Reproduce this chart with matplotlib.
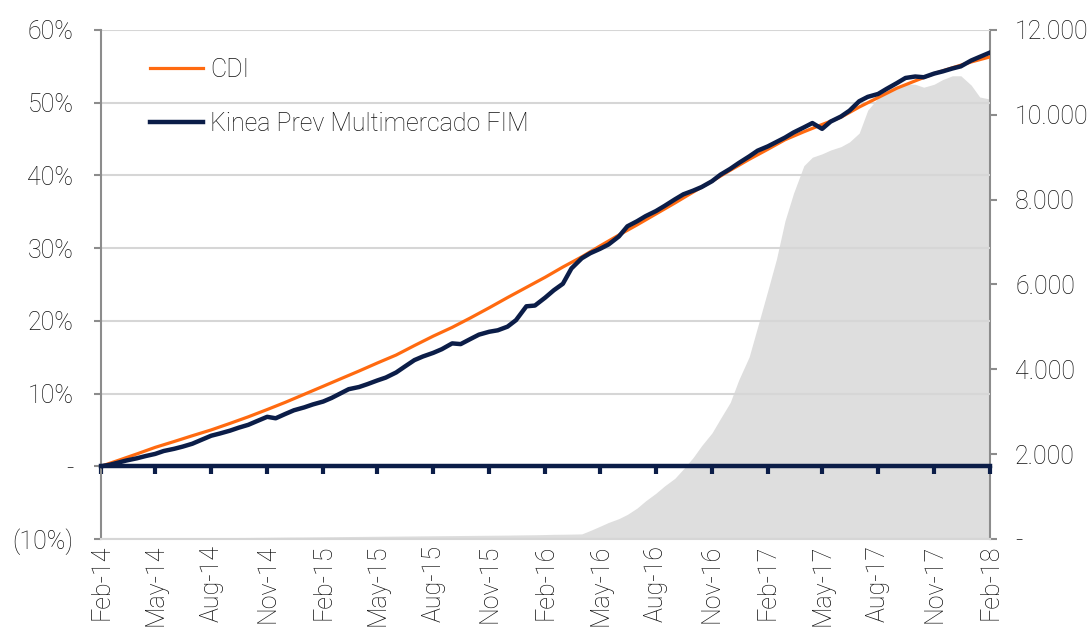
import matplotlib
matplotlib.use('Agg')
import matplotlib.pyplot as plt
import matplotlib.dates as mdates
import numpy as np
import pandas as pd

plt.rcParams['font.family'] = ['Roboto', 'DejaVu Sans']
plt.rcParams['font.weight'] = 'light'

# CDI accumulated return (%), monthly from Feb-14
cdi = [0.0, 0.8, 1.7, 2.6, 3.4, 4.2, 5.0, 5.9, 6.8, 7.8,
       8.8, 9.9, 11.0, 12.0, 13.1, 14.2, 15.3, 16.6, 17.9, 19.1,
       20.4, 21.8, 23.2, 24.6, 26.0, 27.4, 28.8, 30.3, 31.8, 33.2,
       34.7, 36.2, 37.7, 39.2, 40.7, 42.2, 43.6, 44.9, 46.0, 47.0,
       48.0, 49.4, 50.7, 52.0, 53.0, 54.0, 54.8, 55.6, 56.3]

# fund accumulated return (%), twice a month from Feb-14
fund = [0.0, 0.2, 0.5, 0.8, 1.1, 1.4, 1.7, 2.1, 2.4, 2.7,
        3.1, 3.6, 4.2, 4.5, 4.9, 5.3, 5.7, 6.2, 6.8, 6.6,
        7.2, 7.7, 8.1, 8.5, 8.9, 9.4, 10.0, 10.6, 10.9, 11.3,
        11.8, 12.2, 12.9, 13.7, 14.6, 15.1, 15.6, 16.1, 16.9, 16.8,
        17.5, 18.1, 18.5, 18.7, 19.2, 20.1, 22.0, 22.1, 23.2, 24.2,
        25.1, 27.2, 28.6, 29.3, 29.9, 30.5, 31.6, 33.0, 33.7, 34.4,
        35.1, 35.8, 36.7, 37.4, 37.9, 38.4, 39.2, 40.1, 40.9, 41.7,
        42.6, 43.4, 44.0, 44.6, 45.2, 45.9, 46.6, 47.2, 46.4, 47.4,
        48.1, 48.9, 50.2, 50.8, 51.2, 51.9, 52.7, 53.4, 53.6, 53.5,
        54.0, 54.3, 54.7, 55.0, 55.8, 56.3, 56.9]

# fund net assets (right axis), twice a month from Feb-14
aum = [10, 12, 14, 15, 17, 18, 20, 22, 24, 25,
       27, 28, 30, 32, 34, 35, 36, 38, 40, 42,
       44, 46, 48, 50, 52, 54, 56, 58, 60, 62,
       64, 66, 68, 70, 72, 74, 76, 78, 80, 82,
       84, 86, 88, 90, 92, 95, 98, 100, 105, 110,
       112, 115, 120, 200, 300, 390, 480, 580, 730, 900,
       1080, 1250, 1430, 1650, 1920, 2200, 2500, 2840, 3220, 3750,
       4290, 5000, 5870, 6600, 7500, 8150, 8800, 9000, 9080, 9170,
       9250, 9360, 9570, 10110, 10400, 10620, 10680, 10730, 10720, 10650,
       10720, 10830, 10920, 10920, 10700, 10420, 10370]

cdi_dates = pd.date_range('2014-02-01', periods=len(cdi), freq='MS')
half_dates = pd.date_range('2014-02-01', periods=len(fund), freq='SMS')
aum_dates = pd.date_range('2014-02-01', periods=len(aum), freq='SMS')
quarters = pd.date_range('2014-02-01', '2018-02-01', freq='3MS')

navy = '#0b1d48'
orange = '#ff6a10'
txt = '#111111'

fig = plt.figure(figsize=(10.9, 6.35), dpi=100)
ax = fig.add_axes([0.0927, 0.1512, 0.8156, 0.8016])
ax2 = ax.twinx()
ax.set_zorder(2)
ax2.set_zorder(1)
ax.patch.set_visible(False)

xq = mdates.date2num(quarters)
ax2.fill_between(mdates.date2num(aum_dates), aum, 0, color='#dedede', lw=0)
ax2.set_ylim(0, 12000)
ax2.set_yticks(np.arange(0, 12001, 2000))
ax2.set_yticklabels(['-'] + ['{:,}'.format(v).replace(',', '.') for v in range(2000, 12001, 2000)])

ax.plot(mdates.date2num(cdi_dates), cdi, color=orange, lw=2.3, label='CDI', zorder=3)
ax.plot(mdates.date2num(half_dates), fund, color=navy, lw=3.2, label='Kinea Prev Multimercado FIM', zorder=4)

ax.set_ylim(-10, 60)
ax.set_yticks(np.arange(-10, 61, 10))
ax.set_yticklabels(['(10%)', '-'] + ['%d%%' % v for v in range(10, 61, 10)])
ax.set_xlim(xq[0], xq[-1])
ax.set_xticks(xq)
ax.set_xticklabels([d.strftime('%b-%y') for d in quarters])
ax.grid(axis='y', color='#d6d6d6', lw=1.5)
ax.set_axisbelow(True)

# top spine moved to the zero line, its ticks hang downward
ax.spines['top'].set_position(('data', 0))
ax.spines['top'].set_color(navy)
ax.spines['top'].set_linewidth(3.2)
ax.spines['top'].set_zorder(5)
ax.tick_params(axis='x', bottom=False, top=True, labelbottom=True, labeltop=False,
               direction='in', length=6, width=3, color=navy, labelrotation=90,
               pad=4, labelsize=18, labelcolor=txt)

ax2.spines['top'].set_visible(False)
ax.spines['right'].set_visible(False)
ax2.spines['left'].set_visible(False)
ax2.spines['bottom'].set_visible(False)
ax.spines['left'].set_color('#8c8c8c')
ax.spines['left'].set_linewidth(1.5)
ax2.spines['right'].set_color('#8c8c8c')
ax2.spines['right'].set_linewidth(1.5)
ax.spines['bottom'].set_color('#d6d6d6')
ax.spines['bottom'].set_linewidth(1.5)

ax.tick_params(axis='y', length=5, width=1.5, color='#8c8c8c', pad=15, labelsize=18, labelcolor=txt)
ax2.tick_params(axis='y', length=5, width=1.5, color='#8c8c8c', pad=13, labelsize=18, labelcolor=txt)

leg = ax.legend(loc='upper left', bbox_to_anchor=(0.03, 0.99), frameon=False,
                fontsize=18, handlelength=2.1, labelspacing=1.2, handletextpad=0.3)
for t in leg.get_texts():
    t.set_color(txt)

fig.savefig('out.png', dpi=100)
